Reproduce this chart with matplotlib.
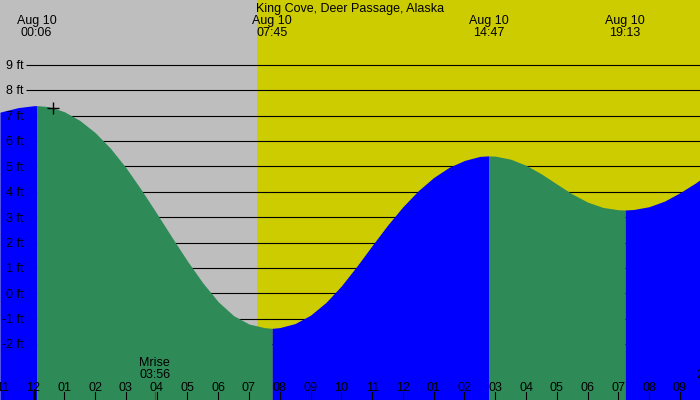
import matplotlib
matplotlib.use('Agg')
import matplotlib.pyplot as plt
from matplotlib.transforms import blended_transform_factory, ScaledTranslation

plt.rcParams['font.family'] = ['Liberation Sans', 'DejaVu Sans']

# ---------------- data ----------------
title = "King Cove, Deer Passage, Alaska"

# tide curve (hours after midnight Aug 10, height in ft)
hours = [-1.09, -1.0, -0.5, 0.0, 0.1, 0.5, 1.0, 1.5, 2.0, 2.5, 3.0, 3.5, 4.0,
         4.5, 5.0, 5.5, 6.0, 6.5, 7.0, 7.5, 7.75, 8.0, 8.5, 9.0, 9.5, 10.0,
         10.5, 11.0, 11.5, 12.0, 12.5, 13.0, 13.5, 14.0, 14.5, 14.78, 15.0,
         15.5, 16.0, 16.5, 17.0, 17.5, 18.0, 18.5, 19.0, 19.22, 19.5, 20.0,
         20.5, 21.0, 21.5, 21.65]
heights = [7.13, 7.16, 7.31, 7.385, 7.39, 7.35, 7.15, 6.81, 6.33, 5.71, 4.95,
           4.08, 3.15, 2.20, 1.27, 0.41, -0.33, -0.88, -1.21, -1.35, -1.38,
           -1.35, -1.19, -0.86, -0.36, 0.29, 1.06, 1.88, 2.68, 3.41, 4.04,
           4.56, 4.96, 5.23, 5.39, 5.41, 5.40, 5.28, 5.04, 4.70, 4.30, 3.91,
           3.59, 3.38, 3.29, 3.28, 3.30, 3.41, 3.63, 3.96, 4.34, 4.47]

# tide extremes labels
tide_dates = ["Aug 10", "Aug 10", "Aug 10", "Aug 10"]
tide_times = ["00:06", "07:45", "14:47", "19:13"]
extreme_hours = [0.1, 7.75, 14.78, 19.22]

# sun / moon
sunrise_hour = 7.27
sunset_hour = 22.05
sunset_label = ["Sset", "22:03"]
moonrise_hour = 3.933
moonrise_label = ["Mrise", "03:56"]

# current-time marker
marker_hour = 0.64
marker_ft = 7.31

# axis
ft_levels = list(range(-2, 10))
hour_ticks = list(range(-1, 22))

# ---------------- style ----------------
GREY = "#BEBEBE"
YELLOW = "#CCCC00"
GREEN = "#2E8B57"
BLUE = "#0000FF"
W, H = 700, 400
x0px, pxh = 33.5, 30.785     # pixel of midnight, px per hour
y0px, pxf = 293.3, 25.4      # pixel of 0 ft, px per ft

def hx(px):
    return (px - x0px) / pxh

def fy(px):
    return 1 - px / H

fig = plt.figure(figsize=(7, 4), dpi=100)
ax = fig.add_axes([0, 0, 1, 1])
xmin, xmax = hx(0), hx(W)
ymin, ymax = (y0px - H) / pxf, y0px / pxf
ax.set_xlim(xmin, xmax)
ax.set_ylim(ymin, ymax)
ax.axis('off')

# background: night / day
ax.axvspan(xmin, sunrise_hour, color=GREY, lw=0, zorder=0)
ax.axvspan(sunrise_hour, xmax, color=YELLOW, lw=0, zorder=0)

# horizontal grid lines
ax.hlines(ft_levels, hx(26), xmax, color='black', lw=0.8, zorder=1)

# tide fill, segmented at extremes
cuts = [0] + [min(range(len(hours)), key=lambda i: abs(hours[i] - e)) for e in extreme_hours] + [len(hours) - 1]
for a, b in zip(cuts[:-1], cuts[1:]):
    xs = hours[a:b + 1]
    ys = heights[a:b + 1]
    col = BLUE if ys[-1] > ys[0] else GREEN
    ax.fill_between(xs, ys, ymin, color=col, lw=0, zorder=2)

# y labels
off = ScaledTranslation(0, -4.4 / 100, fig.dpi_scale_trans)
for f in ft_levels:
    ax.text(hx(24), f, f"{f} ft", ha='right', va='baseline', fontsize=9,
            transform=ax.transData + off, zorder=4)

bt = blended_transform_factory(ax.transData, ax.transAxes)

# hour ticks and labels
for h in hour_ticks:
    lab = f"{(h % 12) or 12:02d}"
    ax.text(h, fy(390.7), lab, ha='center', va='baseline', fontsize=9,
            transform=bt, zorder=4)
    ax.axvline(h, ymin=0, ymax=8 / H, color='black', lw=0.8, zorder=4)
ax.axvline(0, ymin=0, ymax=8 / H, color='black', lw=2.2, zorder=4)
ax.axvline(moonrise_hour, ymin=0, ymax=8 / H, color='red', lw=0.8, zorder=5)

# moonrise / sunset labels
for hh, lines in ((moonrise_hour, moonrise_label), (sunset_hour, sunset_label)):
    ax.text(hh, fy(366), lines[0], ha='center', va='baseline', fontsize=9,
            transform=bt, zorder=4)
    ax.text(hh, fy(378.3), lines[1], ha='center', va='baseline', fontsize=9,
            transform=bt, zorder=4)

# top labels
ax.text(0.5, fy(12), title, ha='center', va='baseline', fontsize=9,
        transform=ax.transAxes, zorder=4)
for d, t in zip(tide_dates, tide_times):
    hh = int(t[:2]) + int(t[3:]) / 60
    ax.text(hh, fy(24), d, ha='center', va='baseline', fontsize=9,
            transform=bt, zorder=4)
    ax.text(hh, fy(36), t, ha='center', va='baseline', fontsize=9,
            transform=bt, zorder=4)

# marker
ax.plot([marker_hour], [marker_ft], marker='+', ms=8, mew=1, color='black',
        zorder=5)

fig.savefig('out.png', dpi=100)
